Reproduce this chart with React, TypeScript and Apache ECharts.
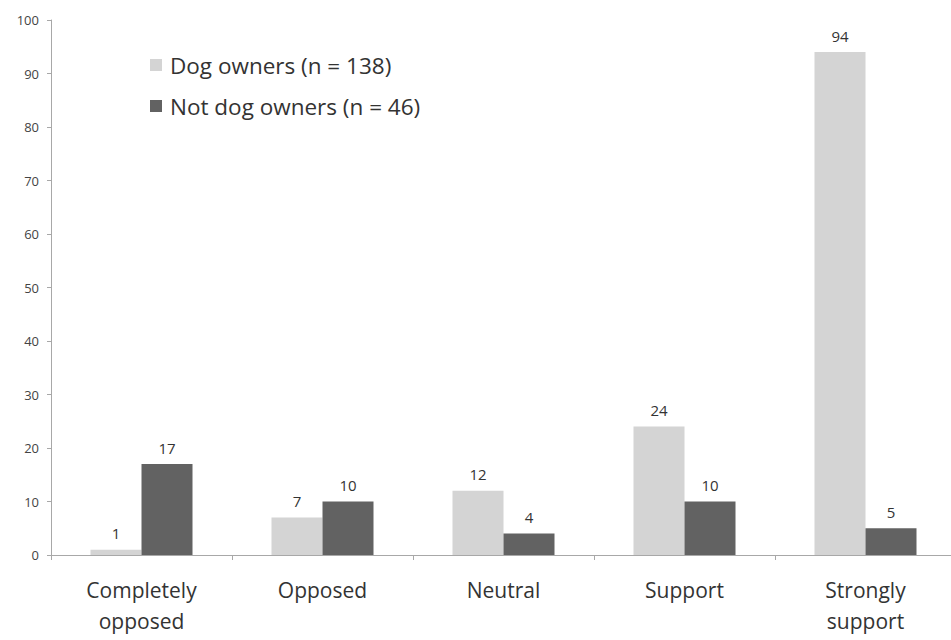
import React, { useEffect, useRef } from "react";
import * as echarts from "echarts";

const categories = ["Completely\nopposed", "Opposed", "Neutral", "Support", "Strongly\nsupport"];
const dogOwners = [1, 7, 12, 24, 94];
const notDogOwners = [17, 10, 4, 10, 5];
const seriesNames = ["Dog owners (n = 138)", "Not dog owners (n = 46)"];
const yTicks = { min: 0, max: 100, interval: 10 };

const FONT = "'Open Sans', 'Noto Sans', sans-serif";

export default function App() {
  const ref = useRef<HTMLDivElement>(null);
  useEffect(() => {
    if (!ref.current) return;
    const chart = echarts.init(ref.current, undefined, { renderer: "svg" });
    const labelStyle = {
      show: true,
      position: "top" as const,
      distance: 9,
      fontFamily: FONT,
      fontSize: 15,
      color: "#333",
    };
    chart.setOption({
      animation: false,
      backgroundColor: "#ffffff",
      textStyle: { fontFamily: FONT },
      grid: { left: 51, right: 0, top: 20, bottom: 85 },
      legend: {
        orient: "vertical",
        left: 145,
        top: 47,
        itemWidth: 12,
        itemHeight: 12,
        itemGap: 15,
        icon: "rect",
        textStyle: { fontFamily: FONT, fontSize: 22.5, color: "#333", lineHeight: 26, padding: [0, 0, 0, 3] },
        data: seriesNames,
      },
      xAxis: {
        type: "category",
        data: categories,
        axisLine: { lineStyle: { color: "#a8a8a8", width: 1 } },
        axisTick: { show: true, length: 5, lineStyle: { color: "#a8a8a8" } },
        axisLabel: {
          fontFamily: FONT,
          fontSize: 21,
          color: "#333",
          lineHeight: 31,
          margin: 19,
          interval: 0,
        },
      },
      yAxis: {
        type: "value",
        min: yTicks.min,
        max: yTicks.max,
        interval: yTicks.interval,
        splitLine: { show: false },
        axisLine: { show: true, lineStyle: { color: "#a8a8a8", width: 1 } },
        axisTick: { show: true, length: 4, lineStyle: { color: "#a8a8a8" } },
        axisLabel: { fontFamily: FONT, fontSize: 13, color: "#444", margin: 12 },
      },
      series: [
        {
          name: seriesNames[0],
          type: "bar",
          data: dogOwners,
          barWidth: 51,
          barGap: "0%",
          itemStyle: { color: "#d4d4d4" },
          label: labelStyle,
        },
        {
          name: seriesNames[1],
          type: "bar",
          data: notDogOwners,
          barWidth: 51,
          barGap: "0%",
          itemStyle: { color: "#626262" },
          label: labelStyle,
        },
      ],
    });
    return () => chart.dispose();
  }, []);
  return (
    <div
      style={{ position: "fixed", left: 0, top: 0, width: 951, height: 640, overflow: "hidden", background: "#fff" }}
    >
      <div ref={ref} style={{ width: 956, height: 640 }} />
    </div>
  );
}
